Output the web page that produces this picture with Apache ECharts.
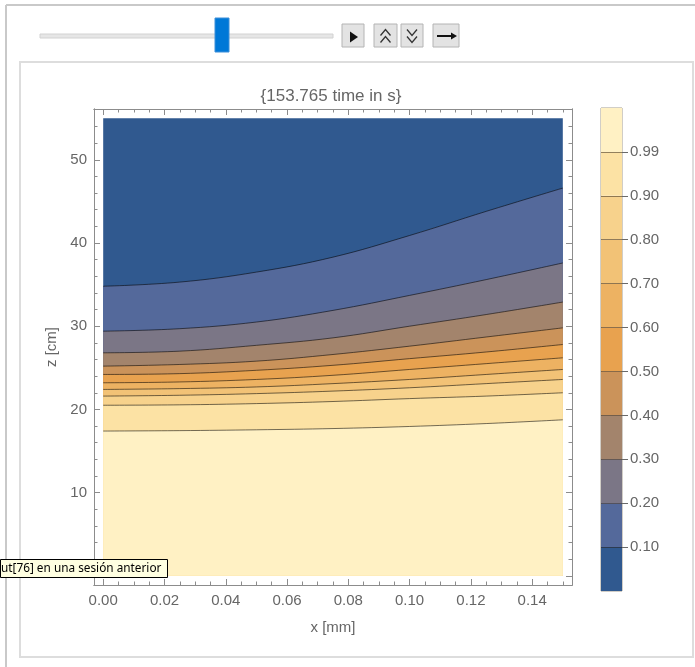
<!DOCTYPE html>
<html>
<head>
<meta charset="utf-8">
<title>Contour</title>
<script src="https://cdn.jsdelivr.net/npm/echarts@6/dist/echarts.min.js"></script>
<style>
  html, body { margin: 0; padding: 0; background: #ffffff; }
  #chart { width: 695px; height: 667px; }
</style>
</head>
<body>
<div id="chart"></div>
<script>
// Sample positions across the plate (mm)
const xs = [0, 0.025, 0.05, 0.075, 0.1, 0.125, 0.15];
// Plotted domain
const xDomain = [0, 0.15];
const zDomain = [0, 55];
// Contour levels of the normalised field
const contourLevels = [0.1, 0.2, 0.3, 0.4, 0.5, 0.6, 0.7, 0.8, 0.9, 0.99];
// Height z [cm] of each contour at the sample positions
const z010 = [34.8, 35.3, 36.5, 38.3, 40.9, 43.8, 46.6];
const z020 = [29.4, 29.7, 30.5, 31.9, 33.7, 35.6, 37.6];
const z030 = [26.8, 27.0, 27.7, 28.6, 30.0, 31.4, 32.9];
const z040 = [25.2, 25.4, 25.8, 26.6, 27.6, 28.7, 29.8];
const z050 = [24.2, 24.3, 24.7, 25.3, 26.1, 26.9, 27.8];
const z060 = [23.2, 23.3, 23.6, 24.1, 24.8, 25.5, 26.2];
const z070 = [22.4, 22.5, 22.7, 23.1, 23.6, 24.2, 24.8];
const z080 = [21.6, 21.7, 21.9, 22.2, 22.6, 23.1, 23.6];
const z090 = [20.5, 20.55, 20.7, 20.95, 21.3, 21.6, 22.0];
const z099 = [17.4, 17.45, 17.55, 17.7, 17.95, 18.3, 18.75];
const contours = [z010, z020, z030, z040, z050, z060, z070, z080, z090, z099];
// Fill colour of each band, lowest value first
const bandColors = ['#30598f', '#54699b', '#7b7686', '#a3846c', '#cb935a', '#e8a24f',
                    '#edb262', '#f2c276', '#f7d28c', '#fce2a4', '#fff1c4'];
// Frame ticks
const xMajorTicks = [0, 0.02, 0.04, 0.06, 0.08, 0.10, 0.12, 0.14];
const xMinorTicks = [0.005, 0.01, 0.015, 0.025, 0.03, 0.035, 0.045, 0.05, 0.055, 0.065, 0.07, 0.075,
                     0.085, 0.09, 0.095, 0.105, 0.11, 0.115, 0.125, 0.13, 0.135, 0.145, 0.15];
const zMajorTicks = [0, 10, 20, 30, 40, 50];
const zLabelTicks = [10, 20, 30, 40, 50];
const zMinorTicks = [2, 4, 6, 8, 12, 14, 16, 18, 22, 24, 26, 28, 32, 34, 36, 38, 42, 44, 46, 48, 52, 54];
const titleText = '{153.765 time in s}';

const FONT = 'Liberation Sans, Arial, sans-serif';
const LABEL = '#666666';
const FRAME = '#8c8c8c';

// Plot range with a 2% margin on each side, as the frame is drawn
const xPad = (xDomain[1] - xDomain[0]) * 0.02;
const zPad = (zDomain[1] - zDomain[0]) * 0.02;

function frameAxis(kind, position, ticks, tickLen, labelTicks, extra) {
  const isX = kind === 'x';
  const ax = {
    type: 'value',
    gridIndex: 0,
    position: position,
    min: isX ? xDomain[0] - xPad : zDomain[0] - zPad,
    max: isX ? xDomain[1] + xPad : zDomain[1] + zPad,
    axisLine: { show: true, onZero: false, lineStyle: { color: FRAME, width: 1 } },
    axisTick: { show: true, inside: true, length: tickLen, customValues: ticks,
                lineStyle: { color: FRAME, width: 1 } },
    axisLabel: labelTicks ? {
      show: true, customValues: labelTicks, color: LABEL, fontSize: 15, fontFamily: FONT,
      margin: isX ? 8 : 7,
      formatter: v => isX ? Number(v).toFixed(2) : String(Math.round(v))
    } : { show: false },
    splitLine: { show: false }
  };
  return Object.assign(ax, extra || {});
}

const xAxes = [
  frameAxis('x', 'bottom', xMajorTicks, 6, xMajorTicks, {
    name: 'x [mm]', nameLocation: 'middle', nameGap: 35,
    nameTextStyle: { color: LABEL, fontSize: 15, fontFamily: FONT }
  }),
  frameAxis('x', 'bottom', xMinorTicks, 3.5, null),
  frameAxis('x', 'top', xMajorTicks, 6, null),
  frameAxis('x', 'top', xMinorTicks, 3.5, null),
  { type: 'category', gridIndex: 1, data: ['bar'], show: false }
];
const yAxes = [
  frameAxis('y', 'left', zMajorTicks, 6, zLabelTicks, {
    name: 'z [cm]', nameLocation: 'middle', nameGap: 34,
    nameTextStyle: { color: LABEL, fontSize: 15, fontFamily: FONT }
  }),
  frameAxis('y', 'left', zMinorTicks, 3.5, null),
  frameAxis('y', 'right', zMajorTicks, 6, null),
  frameAxis('y', 'right', zMinorTicks, 3.5, null),
  {
    type: 'value', gridIndex: 1, position: 'right', min: 0, max: contourLevels.length + 1,
    axisLine: { show: false },
    axisTick: { show: true, inside: false, length: 6,
                customValues: contourLevels.map((_, i) => i + 1),
                lineStyle: { color: '#6a6a6a', width: 1 } },
    axisLabel: { show: true, customValues: contourLevels.map((_, i) => i + 1),
                 color: LABEL, fontSize: 15, fontFamily: FONT, margin: 8,
                 formatter: v => contourLevels[Math.round(v) - 1].toFixed(2) },
    splitLine: { show: false }
  }
];

const series = [];
// Region above the lowest contour
series.push({
  type: 'line', xAxisIndex: 0, yAxisIndex: 0, silent: true, symbol: 'none',
  data: xs.map(x => [x, zDomain[1]]),
  lineStyle: { width: 0, opacity: 0 },
  areaStyle: { color: bandColors[0], opacity: 1, origin: zDomain[0] },
  z: 2
});
// Each contour fills the band beneath it and draws its own line
contours.forEach((zs, k) => {
  series.push({
    type: 'line', xAxisIndex: 0, yAxisIndex: 0, silent: true, symbol: 'none',
    smooth: 0.4,
    data: xs.map((x, i) => [x, zs[i]]),
    lineStyle: { color: 'rgba(0,0,0,0.55)', width: 1 },
    areaStyle: { color: bandColors[k + 1], opacity: 1, origin: zDomain[0] },
    z: 2
  });
});
// Legend bar: one unit-high segment per band
bandColors.forEach((c, k) => {
  const s = {
    type: 'bar', xAxisIndex: 4, yAxisIndex: 4, stack: 'legend', silent: true,
    barWidth: '100%', data: [1],
    itemStyle: { color: c, borderWidth: 0 }
  };
  if (k === bandColors.length - 1) {
    // separators at the contour levels
    s.markLine = {
      silent: true, symbol: 'none', animation: false,
      label: { show: false },
      lineStyle: { color: 'rgba(40,30,20,0.5)', width: 1, type: 'solid' },
      data: contourLevels.map((_, i) => ({ yAxis: i + 1 }))
    };
  }
  series.push(s);
});

// Control strip and note box
function chevron(cx, cy, up) {
  const d = up ? -1 : 1;
  return { type: 'polyline', z: 50,
    shape: { points: [[cx - 5, cy - 3 * d], [cx, cy + 3 * d], [cx + 5, cy - 3 * d]] },
    style: { stroke: '#333', lineWidth: 1.3, fill: null } };
}
function button(x, w) {
  return { type: 'rect', z: 40, shape: { x: x, y: 24, width: w, height: 23 },
           style: { fill: '#e3e3e3', stroke: '#b4b4b4', lineWidth: 1 } };
}
const graphic = [
  { type: 'line', z: 1, shape: { x1: 6, y1: 5, x2: 695, y2: 5 }, style: { stroke: '#c9c9c9', lineWidth: 2 } },
  { type: 'line', z: 1, shape: { x1: 6, y1: 5, x2: 6, y2: 667 }, style: { stroke: '#c9c9c9', lineWidth: 2 } },
  { type: 'rect', z: 1, shape: { x: 20, y: 62, width: 673, height: 595 },
    style: { fill: null, stroke: '#dddddd', lineWidth: 2 } },
  { type: 'rect', z: 40, shape: { x: 40, y: 34, width: 293, height: 4 },
    style: { fill: '#e6e6e6', stroke: '#d2d2d2', lineWidth: 1 } },
  { type: 'rect', z: 41, shape: { x: 215, y: 18, width: 14, height: 34 },
    style: { fill: '#0078d7', stroke: '#3d8fd9', lineWidth: 1 } },
  button(342, 22), button(374, 23), button(401, 22), button(433, 26),
  { type: 'polygon', z: 50, shape: { points: [[350, 31.5], [358, 37], [350, 42.5]] }, style: { fill: '#111' } },
  chevron(385.5, 32.5, true), chevron(385.5, 39.5, true),
  chevron(412, 32.5, false), chevron(412, 39.5, false),
  { type: 'line', z: 50, shape: { x1: 437, y1: 36, x2: 453, y2: 36 }, style: { stroke: '#111', lineWidth: 2 } },
  { type: 'polygon', z: 50, shape: { points: [[451, 32.5], [457, 36], [451, 39.5]] }, style: { fill: '#111' } },
  { type: 'text', z: 50, x: 331, y: 96,
    style: { text: titleText, fill: LABEL, fontSize: 17, fontFamily: FONT,
             align: 'center', verticalAlign: 'middle' } },
  { type: 'rect', z: 100, shape: { x: 0.5, y: 559.5, width: 167, height: 18 },
    style: { fill: '#ffffe1', stroke: '#000', lineWidth: 1 } },
  { type: 'text', z: 101, x: 1, y: 568.5,
    style: { text: 'ut[76] en una sesión anterior', fill: '#000', fontSize: 11.8,
             fontFamily: 'Noto Sans, Open Sans, sans-serif', align: 'left', verticalAlign: 'middle' } }
];

const chart = echarts.init(document.getElementById('chart'), null, { renderer: 'canvas' });
chart.setOption({
  animation: false,
  backgroundColor: '#ffffff',
  grid: [
    { left: 94, top: 109, width: 478, height: 476, containLabel: false },
    { left: 601, top: 108, width: 21, height: 483, containLabel: false,
      show: true, borderColor: '#a39c8e', borderWidth: 1, backgroundColor: 'transparent' }
  ],
  xAxis: xAxes,
  yAxis: yAxes,
  series: series,
  graphic: graphic
});
</script>
</body>
</html>
